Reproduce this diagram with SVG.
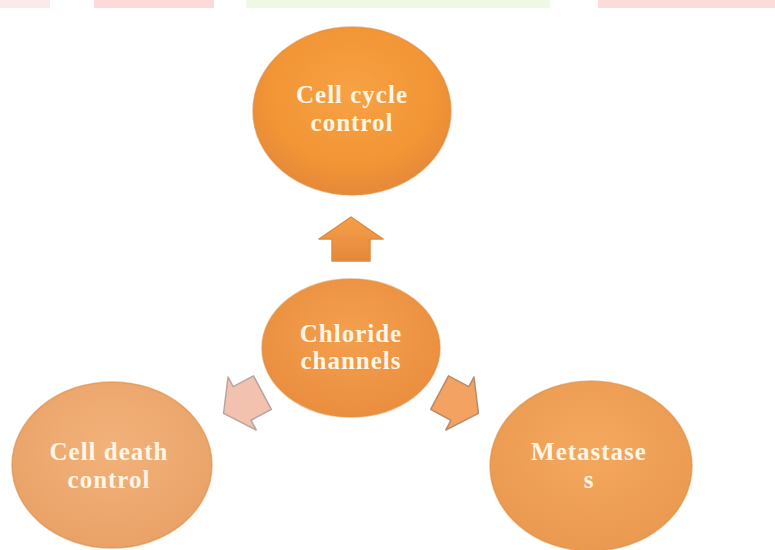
<svg xmlns="http://www.w3.org/2000/svg" width="775" height="550" viewBox="0 0 775 550">
<defs>
<radialGradient id="gOrange" cx="50%" cy="40%" r="60%">
<stop offset="0" stop-color="#F7A244"/>
<stop offset="0.7" stop-color="#F29535"/>
<stop offset="1" stop-color="#E5893A"/>
</radialGradient>
<radialGradient id="gMid" cx="50%" cy="40%" r="60%">
<stop offset="0" stop-color="#F4A04E"/>
<stop offset="1" stop-color="#E98E3E"/>
</radialGradient>
<radialGradient id="gPeach" cx="50%" cy="40%" r="60%">
<stop offset="0" stop-color="#F2B27A"/>
<stop offset="1" stop-color="#E9A268"/>
</radialGradient>
<radialGradient id="gRight" cx="50%" cy="40%" r="60%">
<stop offset="0" stop-color="#F4A85E"/>
<stop offset="1" stop-color="#EA9A50"/>
</radialGradient>
<linearGradient id="aTop" x1="0" y1="0" x2="0" y2="1">
<stop offset="0" stop-color="#F4A04A"/>
<stop offset="1" stop-color="#E5873A"/>
</linearGradient>
</defs>
<style>
.node{stroke:#E08A3A;stroke-width:1.5;stroke-opacity:0.6}
.lbl{font-family:"Liberation Serif","Times New Roman",serif;font-weight:bold;font-size:25px;letter-spacing:1px;fill:#FFF6E6;text-anchor:middle}
.arr{stroke-width:1.5;stroke-linejoin:round}
</style>
<rect width="775" height="550" fill="#FFFFFF"/>
<g id="watermark">
<rect x="0" y="0" width="50" height="8" fill="#FBEAEA"/>
<rect x="94" y="0" width="120" height="8" fill="#FCDADA"/>
<rect x="246" y="0" width="304" height="8" fill="#EEF8E4"/>
<rect x="598" y="0" width="177" height="8" fill="#FCDCD8"/>
</g>
<g id="connectors">
<polygon class="arr" points="351,217 383,239 370,239 370,261 332,261 332,239 319,239" fill="url(#aTop)" stroke="#E08A3C"/>
<polygon class="arr" transform="translate(243,403) rotate(-118)" points="0,-22 30,-1 19,-1 19,22 -19,22 -19,-1 -30,-1" fill="#F2C2AE" stroke="#B8A4A0"/>
<polygon class="arr" transform="translate(459,403) rotate(118)" points="0,-22 30,-1 19,-1 19,22 -19,22 -19,-1 -30,-1" fill="#F3A262" stroke="#B88A6A"/>
</g>
<g id="node-cell-cycle">
<ellipse class="node" cx="352" cy="111" rx="99" ry="84" fill="url(#gOrange)"/>
<text class="lbl" x="352" y="103">Cell cycle</text>
<text class="lbl" x="352" y="131">control</text>
</g>
<g id="node-chloride">
<ellipse class="node" cx="351" cy="348" rx="89" ry="69" fill="url(#gMid)"/>
<text class="lbl" x="351" y="342">Chloride</text>
<text class="lbl" x="351" y="369">channels</text>
</g>
<g id="node-cell-death">
<ellipse class="node" cx="112" cy="465" rx="100" ry="83" fill="url(#gPeach)"/>
<text class="lbl" x="109" y="460">Cell death</text>
<text class="lbl" x="109" y="488">control</text>
</g>
<g id="node-metastases">
<ellipse class="node" cx="591" cy="466" rx="101" ry="85" fill="url(#gRight)"/>
<text class="lbl" x="589" y="460">Metastase</text>
<text class="lbl" x="589" y="488">s</text>
</g>
</svg>
